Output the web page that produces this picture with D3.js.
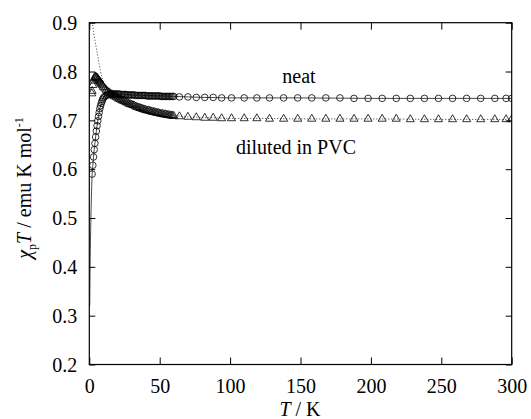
<!DOCTYPE html>
<html><head><meta charset="utf-8">
<script src="https://cdn.jsdelivr.net/npm/d3@7"></script>
<style>svg text{font-family:"Liberation Serif",serif;}</style>
</head>
<body style="margin:0;background:#fff"><svg id="c" width="531" height="419"></svg>
<script>
// ---- data ----
const xTicks = [0, 50, 100, 150, 200, 250, 300];
const yTicks = [0.2, 0.3, 0.4, 0.5, 0.6, 0.7, 0.8, 0.9];

const neatT = [2,2.5,3,3.5,4,4.5,5,5.5,6,6.5,7,7.5,8,8.5,9,9.5,10,
  11,12,13,14,15,16,17,18,19,20,21,22,23,24,25,26,27,28,29,30,31,32,33,34,35,36,37,38,39,40,
  41,42,43,44,45,46,47,48,49,50,51,52,53,54,55,56,57,58,59,60,
  64,70,76,82,88,94,101,110,119,128,138,148,158,168,178,188,198,208,218,228,238,248,258,268,278,288,296,300];
const neatChiT = [0.590,0.608,0.625,0.640,0.653,0.666,0.678,0.689,0.699,0.708,0.716,0.724,0.730,0.735,0.739,0.743,0.746,
  0.749,0.751,0.752,0.753,0.753,0.754,0.754,0.754,0.754,0.754,0.754,0.753,0.753,0.753,0.753,0.753,0.752,0.752,0.752,0.752,0.752,0.752,0.751,0.751,0.751,0.751,0.751,0.751,0.751,0.751,
  0.750,0.750,0.750,0.750,0.750,0.750,0.750,0.750,0.750,0.750,0.749,0.749,0.749,0.749,0.749,0.749,0.749,0.749,0.749,0.749,
  0.748,0.748,0.747,0.747,0.747,0.746,0.746,0.746,0.746,0.746,0.746,0.746,0.746,0.746,0.746,0.745,0.745,0.745,0.745,0.745,0.745,0.745,0.745,0.745,0.745,0.745,0.745,0.745];

const pvcT = [1.8,2,2.5,3,3.5,4,4.5,5,5.5,6,6.5,7,7.5,8,8.5,9,9.5,10,
  11,12,13,14,15,16,17,18,19,20,21,22,23,24,25,26,27,28,29,30,31,32,33,34,35,36,37,38,39,40,
  41,42,43,44,45,46,47,48,49,50,51,52,53,54,55,56,57,58,59,60,
  64,70,76,82,88,94,101,110,119,128,138,148,158,168,178,188,198,208,218,228,238,248,258,268,278,288,296,300];
const pvcChiT = [0.755,0.760,0.772,0.781,0.786,0.789,0.789,0.788,0.787,0.785,0.783,0.781,0.779,0.777,0.775,0.773,0.771,0.768,
  0.765,0.762,0.759,0.757,0.755,0.753,0.751,0.749,0.748,0.746,0.744,0.743,0.741,0.740,0.739,0.737,0.736,0.734,0.733,0.732,0.731,0.730,0.728,0.727,0.726,0.725,0.724,0.723,0.722,0.721,
  0.720,0.720,0.719,0.718,0.717,0.717,0.716,0.715,0.715,0.714,0.713,0.713,0.712,0.712,0.711,0.711,0.710,0.710,0.709,0.709,
  0.708,0.707,0.706,0.705,0.705,0.704,0.704,0.704,0.704,0.703,0.703,0.703,0.703,0.703,0.703,0.703,0.703,0.703,0.703,0.702,0.702,0.702,0.702,0.702,0.702,0.702,0.702,0.702];

const fitNeatT = [0.3,0.5,0.7,1,1.3,1.6,2,2.5,3,4,5,6,7,8,9,10,12,15,20,30,40,60,100,150,200,250,300];
const fitNeatChiT = [0.32,0.38,0.43,0.48,0.52,0.555,0.59,0.608,0.625,0.653,0.678,0.699,0.716,0.730,0.739,0.746,0.751,0.753,0.754,0.752,0.751,0.749,0.746,0.746,0.745,0.745,0.745];

const fitPvcT = [1.8,2,2.5,3,3.5,4,5,6,7,8,9,10,11,12,13,15,17,20,25,30,35,40,45,50,55,60,70,80,90,100,120,150,200,250,300];
const fitPvcChiT = [0.92,0.905,0.893,0.882,0.873,0.864,0.848,0.832,0.815,0.800,0.788,0.780,0.773,0.767,0.762,0.755,0.750,0.745,0.739,0.733,0.727,0.722,0.718,0.715,0.712,0.710,0.707,0.706,0.705,0.704,0.704,0.703,0.703,0.702,0.702];

const labels = ["neat", "diluted in PVC"];

// ---- layout ----
const pL = 89.3, pR = 511.7, pT = 22.7, pB = 364.5;
const serif = "Liberation Serif";
const svg = d3.select("#c");
const x = d3.scaleLinear().domain([0, 300]).range([pL, pR]);
const y = d3.scaleLinear().domain([0.2, 0.9]).range([pB, pT]);
const fs = 20;

svg.append("defs").append("clipPath").attr("id", "clip")
  .append("rect").attr("x", pL).attr("y", pT).attr("width", pR - pL).attr("height", pB - pT);

const plot = svg.append("g").attr("clip-path", "url(#clip)");

const zip = (a, b) => a.map((v, i) => [v, b[i]]);
const line = d3.line().x(d => x(d[0])).y(d => y(d[1])).curve(d3.curveMonotoneX);

plot.append("path").datum(zip(fitNeatT, fitNeatChiT)).attr("d", line)
  .attr("fill", "none").attr("stroke", "#333").attr("stroke-width", 0.9);
plot.append("path").datum(zip(fitPvcT, fitPvcChiT)).attr("d", line)
  .attr("fill", "none").attr("stroke", "#333").attr("stroke-width", 1).attr("stroke-dasharray", "1,2");

plot.append("g").selectAll("circle").data(zip(neatT, neatChiT)).join("circle")
  .attr("cx", d => x(d[0])).attr("cy", d => y(d[1])).attr("r", 3.3)
  .attr("fill", "none").attr("stroke", "#000").attr("stroke-width", 0.8);

const tri = d3.symbol().type(d3.symbolTriangle).size(28);
plot.append("g").selectAll("path").data(zip(pvcT, pvcChiT)).join("path")
  .attr("d", tri).attr("transform", d => `translate(${x(d[0])},${y(d[1])})`)
  .attr("fill", "none").attr("stroke", "#000").attr("stroke-width", 0.8);

const fmtY = d3.format(".1f");
const gx = svg.append("g").attr("transform", `translate(0,${pB})`)
  .call(d3.axisBottom(x).tickValues(xTicks).tickSizeInner(-7).tickSizeOuter(0).tickPadding(14));
const gxt = svg.append("g").attr("transform", `translate(0,${pT})`)
  .call(d3.axisTop(x).tickValues(xTicks).tickSizeInner(-7).tickSizeOuter(0).tickFormat(""));
const gy = svg.append("g").attr("transform", `translate(${pL},0)`)
  .call(d3.axisLeft(y).tickValues(yTicks).tickSizeInner(-6).tickSizeOuter(0).tickPadding(12).tickFormat(fmtY));
const gyr = svg.append("g").attr("transform", `translate(${pR},0)`)
  .call(d3.axisRight(y).tickValues(yTicks).tickSizeInner(-6).tickSizeOuter(0).tickFormat(""));
[gx, gxt, gy, gyr].forEach(g => {
  g.attr("font-family", serif).attr("font-size", fs);
  g.select(".domain").remove();
  g.selectAll("line").attr("stroke", "#000").attr("stroke-width", 1);
  g.selectAll("text").attr("font-family", serif).attr("font-size", fs).attr("fill", "#000");
});
gy.selectAll("text").attr("dy", "0.34em");

svg.append("rect").attr("x", pL).attr("y", pT).attr("width", pR - pL).attr("height", pB - pT)
  .attr("fill", "none").attr("stroke", "#000").attr("stroke-width", 1.2);

svg.append("text").attr("font-family", serif).attr("font-size", fs)
  .attr("x", 299).attr("y", 83).attr("text-anchor", "middle").text(labels[0]);
svg.append("text").attr("font-family", serif).attr("font-size", fs)
  .attr("x", 236).attr("y", 154).text(labels[1]);

const xl = svg.append("text").attr("font-family", serif).attr("font-size", fs)
  .attr("x", 300).attr("y", 416).attr("text-anchor", "middle");
xl.append("tspan").attr("font-style", "italic").text("T");
xl.append("tspan").text(" / K");

const yl = svg.append("text").attr("font-family", serif).attr("font-size", fs)
  .attr("transform", "translate(31,188) rotate(-90)").attr("text-anchor", "middle");
yl.append("tspan").attr("font-style", "italic").text("χ");
yl.append("tspan").attr("font-size", 12).attr("dy", 5).text("p");
yl.append("tspan").attr("font-style", "italic").attr("dy", -5).text("T");
yl.append("tspan").text(" / emu K mol");
yl.append("tspan").attr("font-size", 12).attr("dy", -8).text("-1");
</script></body></html>
